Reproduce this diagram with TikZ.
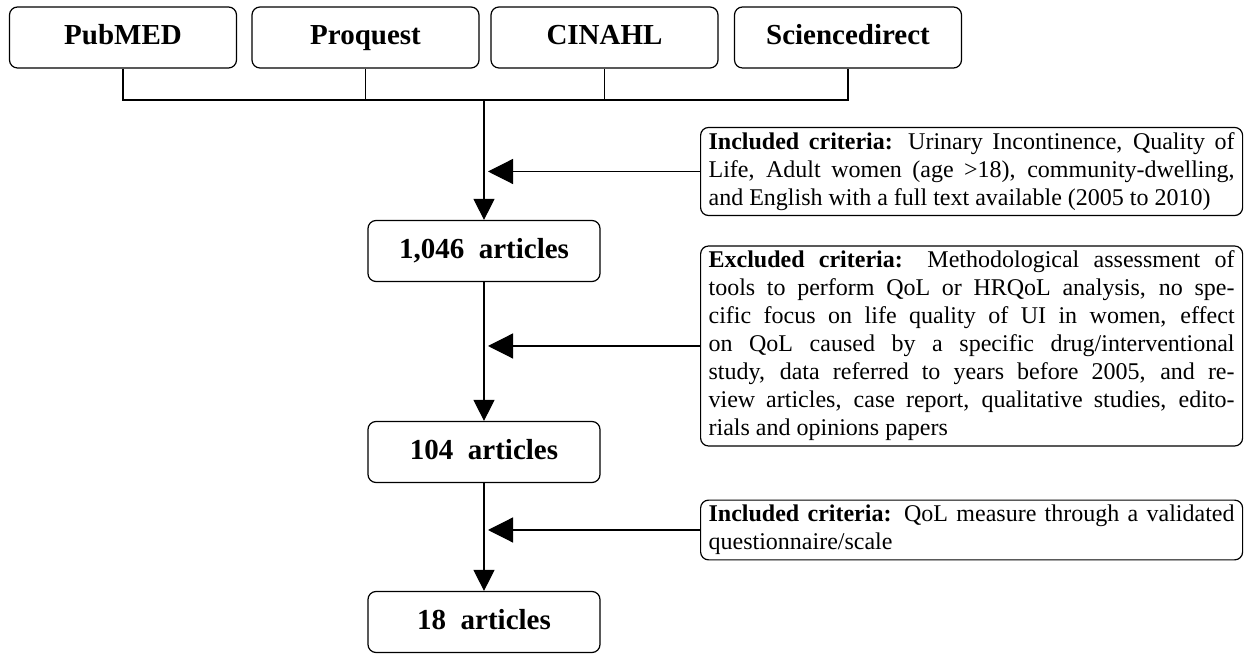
\documentclass[tikz,border=0pt]{standalone}
\usepackage{fontspec}
\setmainfont{Liberation Serif}
\usetikzlibrary{arrows.meta,positioning}
\tikzset{
  dbbox/.style={draw, rounded corners=4pt, line width=0.6pt, minimum width=113.5pt, minimum height=30.5pt, text height=10.5pt, text depth=3pt, font=\fontsize{14.5}{17}\selectfont\bfseries},
  countbox/.style={dbbox, minimum width=116pt},
  critbox/.style={draw, rounded corners=4pt, line width=0.6pt, text width=263pt, inner xsep=4pt, inner ysep=2.5pt, align=justify, anchor=west, font=\fontsize{12}{14}\selectfont},
  arr/.style={-{Triangle[length=10.5pt,width=10.5pt]}, line width=0.6pt},
  sidearr/.style={-{Triangle[length=12.5pt,width=12.5pt]}, line width=0.6pt}
}
\begin{document}
\begin{tikzpicture}[x=0.5pt,y=-0.5pt]
\useasboundingbox (0,0) rectangle (1247,656);
\node[dbbox] (pubmed) at (123,37.5) {PubMED};
\node[dbbox] (proquest) at (365.5,37.5) {Proquest};
\node[dbbox] (cinahl) at (604.5,37.5) {CINAHL};
\node[dbbox] (sciencedirect) at (848,37.5) {Sciencedirect};
\coordinate (join) at (484,100);
\node[countbox] (n1046) at (484,251) {1,046~~articles};
\node[countbox] (n104) at (484,452) {104~~articles};
\node[countbox] (n18) at (484,622) {18~~articles};
\node[critbox] (incl1) at (700,171.5) {\textbf{Included criteria:} Urinary Incontinence, Quality of\linebreak Life, Adult women (age >18), community-dwelling,\linebreak and English with a full text available (2005 to 2010)};
\node[critbox] (excl) at (700,346) {\textbf{Excluded criteria:} Methodological assessment of\linebreak tools to perform QoL or HRQoL analysis, no spe-\linebreak cific focus on life quality of UI in women, effect\linebreak on QoL caused by a specific drug/interventional\linebreak study, data referred to years before 2005, and re-\linebreak view articles, case report, qualitative studies, edito-\linebreak rials and opinions papers};
\node[critbox] (incl2) at (700,530) {\textbf{Included criteria:} QoL measure through a validated\linebreak questionnaire/scale};
\coordinate (tip1) at (488,171.5);
\coordinate (tip2) at (488,346);
\coordinate (tip3) at (488,530);

\draw[line width=0.6pt] (pubmed.south) |- (sciencedirect.south |- join) -- (sciencedirect.south);
\draw[line width=0.6pt] (proquest.south) -- (proquest.south |- join);
\draw[line width=0.6pt] (cinahl.south) -- (cinahl.south |- join);
\draw[arr] (join) -- (n1046);
\draw[arr] (n1046) -- (n104);
\draw[arr] (n104) -- (n18);
\draw[sidearr] (incl1.west) -- (tip1);
\draw[sidearr] (excl.west) -- (tip2);
\draw[sidearr] (incl2.west) -- (tip3);
\end{tikzpicture}
\end{document}
